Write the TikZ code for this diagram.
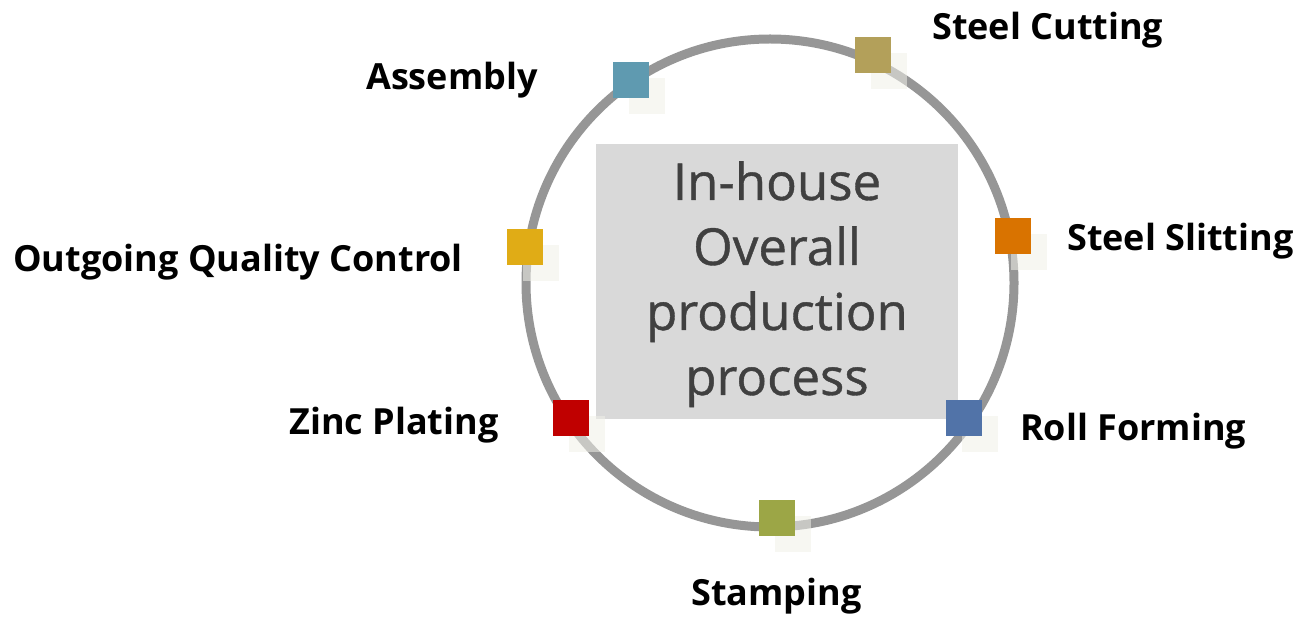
\documentclass[tikz,border=0pt]{standalone}
\usepackage{fontspec}
\setmainfont{Open Sans}
\newfontfamily\titlefont{Open Sans}[FakeBold=0.8]
\begin{document}
\begin{tikzpicture}[x=1pt,y=-1pt,
  marker/.style={minimum size=36pt, inner sep=0pt, draw=none},
  markshadow/.style={fill=shadowcol, fill opacity=0.55, minimum size=36pt, inner sep=0pt, draw=none},
  steplabel/.style={anchor=base west, inner sep=0pt, font=\fontsize{36}{40}\selectfont\bfseries, text=black}]
\definecolor{ringcol}{HTML}{969696}
\definecolor{shadowcol}{HTML}{F0F0E8}
\definecolor{boxcol}{HTML}{D9D9D9}
\definecolor{titlecol}{HTML}{404040}
\definecolor{ccut}{HTML}{B3A05A}
\definecolor{casm}{HTML}{5F9AB0}
\definecolor{cslit}{HTML}{D97300}
\definecolor{coqc}{HTML}{E0AC16}
\definecolor{croll}{HTML}{5173A8}
\definecolor{czinc}{HTML}{C00000}
\definecolor{cstamp}{HTML}{9CA646}
\useasboundingbox (0,0) rectangle (1296,617);

% process ring
\draw[ringcol, line width=9pt] (770,283) circle[radius=244];

% centre title box
\node[fill=boxcol, minimum width=362pt, minimum height=275pt, inner sep=0pt] (title) at (776.5,282) {};
\node[text=titlecol, font=\fontsize{51}{65}\selectfont\titlefont, align=center, anchor=base, inner sep=0pt] (titletext) at (777,395)
  {In-house\\Overall\\production\\process};

% shadows of the step markers
\foreach \nm/\px/\py in {cut/873/55, asm/631/80, slit/1013/236, oqc/525/247, roll/964/418, zinc/571/418, stamp/777/518}
  \node[markshadow] (sh\nm) at (\px+16,\py+16) {};

% step markers
\node[marker, fill=ccut]   (mcut)   at (873,55)  {};
\node[marker, fill=casm]   (masm)   at (631,80)  {};
\node[marker, fill=cslit]  (mslit)  at (1013,236) {};
\node[marker, fill=coqc]   (moqc)   at (525,247) {};
\node[marker, fill=croll]  (mroll)  at (964,418) {};
\node[marker, fill=czinc]  (mzinc)  at (571,418) {};
\node[marker, fill=cstamp] (mstamp) at (777,518) {};

% step labels
\node[steplabel] (lcut)   at (932,40)  {Steel Cutting};
\node[steplabel] (lasm)   at (366,90)  {Assembly};
\node[steplabel] (lslit)  at (1067,251) {Steel Slitting};
\node[steplabel] (loqc)   at (13,272)  {Outgoing Quality Control};
\node[steplabel] (lzinc)  at (289,435) {Zinc Plating};
\node[steplabel] (lroll)  at (1020,441) {Roll Forming};
\node[steplabel] (lstamp) at (691,605) {Stamping};
\end{tikzpicture}
\end{document}
